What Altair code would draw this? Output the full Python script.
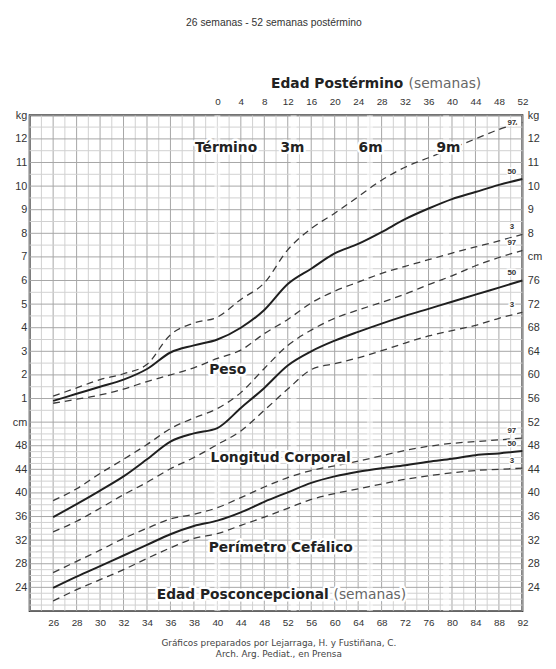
import altair as alt
import pandas as pd

# ---------------- data ----------------
# Postconceptional age (weeks)
SEMANAS = [26, 28, 30, 32, 34, 36, 38, 40, 44, 48, 52, 56, 60, 64, 68, 72, 76, 80, 84, 88, 92]

# Peso (kg)
PESO_P3 = [0.8, 0.97, 1.15, 1.4, 1.72, 2.0, 2.3, 2.7, 3.05, 3.75, 4.35, 5.05, 5.55, 5.93, 6.3, 6.6, 6.88, 7.16, 7.42, 7.68, 7.95]
PESO_P50 = [0.9, 1.2, 1.5, 1.8, 2.25, 2.95, 3.25, 3.5, 4.0, 4.75, 5.85, 6.5, 7.15, 7.55, 8.05, 8.6, 9.05, 9.45, 9.75, 10.05, 10.3]
PESO_P97 = [1.1, 1.45, 1.8, 2.05, 2.45, 3.7, 4.2, 4.45, 5.2, 5.9, 7.3, 8.2, 8.85, 9.55, 10.25, 10.8, 11.2, 11.6, 12.0, 12.4, 12.7]

# Longitud corporal (cm)
LONG_P3 = [33.4, 35.2, 37.4, 39.7, 41.8, 44.1, 46.0, 48.2, 50.5, 54.0, 57.6, 60.9, 61.9, 62.9, 64.1, 65.4, 66.6, 67.5, 68.4, 69.6, 70.6]
LONG_P50 = [35.9, 38.1, 40.4, 42.8, 45.7, 48.7, 50.1, 51.0, 54.4, 57.8, 61.6, 64.0, 65.8, 67.3, 68.7, 70.0, 71.2, 72.4, 73.6, 74.8, 76.0]
LONG_P97 = [38.7, 40.7, 43.3, 45.7, 48.2, 50.9, 52.7, 54.3, 57.0, 61.1, 65.0, 67.6, 69.6, 71.0, 72.3, 73.7, 75.3, 76.8, 78.5, 79.9, 81.1]

# Perimetro cefalico (cm)
PC_P3 = [21.7, 23.6, 25.3, 27.0, 28.9, 30.7, 32.3, 33.1, 34.5, 35.9, 37.4, 38.9, 39.9, 40.7, 41.5, 42.3, 42.9, 43.4, 43.8, 44.0, 44.2]
PC_P50 = [23.9, 25.8, 27.6, 29.4, 31.2, 33.0, 34.4, 35.3, 36.7, 38.5, 40.1, 41.7, 42.8, 43.6, 44.2, 44.7, 45.3, 45.8, 46.4, 46.7, 47.1]
PC_P97 = [26.5, 28.4, 30.3, 32.3, 34.0, 35.6, 36.4, 37.5, 39.2, 41.0, 42.6, 43.8, 44.6, 45.4, 46.3, 47.2, 47.9, 48.4, 48.7, 49.0, 49.3]

# term, 3, 6 and 9 months (postconceptional weeks)
HITOS_SEMANAS = [40, 53, 66, 79]

# tick values
TICKS_PC = SEMANAS
TICKS_POSTERMINO = [0, 4, 8, 12, 16, 20, 24, 28, 32, 36, 40, 44, 48, 52]

# text
TITULO = "26 semanas - 52 semanas postérmino"
PIE_1 = "Gráficos preparados por Lejarraga, H. y Fustiñana, C."
PIE_2 = "Arch. Arg. Pediat., en Prensa"

# --------------- long table ----------------
rows = []
for grupo, unidad, series in [
    ("peso", "kg", [(3, PESO_P3), (50, PESO_P50), (97, PESO_P97)]),
    ("long", "cm", [(3, LONG_P3), (50, LONG_P50), (97, LONG_P97)]),
    ("pc", "cm", [(3, PC_P3), (50, PC_P50), (97, PC_P97)]),
]:
    for pct, vals in series:
        for s, v in zip(SEMANAS, vals):
            rows.append({"grupo": grupo, "unidad": unidad, "pct": pct,
                         "serie": f"{grupo}-{pct}", "semana": s, "valor": v})
df = pd.DataFrame(rows)

IDX = "datum.semana <= 40 ? (datum.semana - 26) / 2 : 7 + (datum.semana - 40) / 4"
YCM = "datum.unidad == 'kg' ? 52 + 4 * datum.valor : datum.valor"

XS = alt.Scale(domain=[-1, 20], nice=False, zero=False)
YS = alt.Scale(domain=[20, 104], nice=False, zero=False)

LABEL_FONT = "Liberation Sans"
BIG_FONT = "DejaVu Sans"

# ---------------- grid ----------------
grid_v = alt.Chart(alt.sequence(-1, 20.01, 0.5, as_="gx")).mark_rule(strokeWidth=1).encode(
    x=alt.X("gx:Q", scale=XS, axis=None),
    color=alt.condition("datum.gx % 1 == 0", alt.value("#a6a6a6"), alt.value("#d0d0d0")),
)
grid_h = alt.Chart(alt.sequence(20, 104.5, 1, as_="gy")).transform_filter(
    "datum.gy < 52 || datum.gy % 2 == 0"
).mark_rule(strokeWidth=1).encode(
    y=alt.Y("gy:Q", scale=YS, axis=None),
    color=alt.condition("datum.gy % 4 == 0", alt.value("#a6a6a6"), alt.value("#d0d0d0")),
)
bandas = alt.Chart(pd.DataFrame({"semana": HITOS_SEMANAS})).transform_calculate(
    idx=IDX
).mark_rule(color="white", strokeWidth=6, opacity=0.55).encode(
    x=alt.X("idx:Q", scale=XS, axis=None)
)

# ---------------- curves ----------------
base = alt.Chart(df).transform_calculate(idx=IDX, ycm=YCM)

dashed = base.transform_filter("datum.pct != 50").mark_line(
    color="#3a3a3a", strokeWidth=1.3, strokeDash=[7, 5], interpolate="monotone"
).encode(
    x=alt.X("idx:Q", scale=XS, axis=None),
    y=alt.Y("ycm:Q", scale=YS, axis=None),
    detail="serie:N",
)
solid = base.transform_filter("datum.pct == 50").mark_line(
    color="#1f1f1f", strokeWidth=2, interpolate="monotone"
).encode(
    x=alt.X("idx:Q", scale=XS, axis=None),
    y=alt.Y("ycm:Q", scale=YS, axis=None),
    detail="serie:N",
)

# percentile labels at the end of each curve
end = base.transform_filter("datum.semana == 92").transform_calculate(
    lx="datum.idx - 0.45",
    ly="min(datum.ycm + 1.25, 102.7)",
    lab="'' + datum.pct",
)
pct_halo = end.mark_text(font=LABEL_FONT, fontSize=8, fontWeight="bold", fill="white",
                         stroke="white", strokeWidth=3).encode(
    x=alt.X("lx:Q", scale=XS, axis=None), y=alt.Y("ly:Q", scale=YS, axis=None), text="lab:N")
pct_txt = end.mark_text(font=LABEL_FONT, fontSize=8, fontWeight="bold", fill="#333").encode(
    x=alt.X("lx:Q", scale=XS, axis=None), y=alt.Y("ly:Q", scale=YS, axis=None), text="lab:N")

# ---------------- annotations (in data coordinates: x = axis index, y = cm) ----------------
anot_bold = pd.DataFrame({
    "t": ["Término", "3m", "6m", "9m", "Peso", "Longitud Corporal", "Perímetro Cefálico"],
    "ax": [7.37, 10.2, 13.53, 16.85, 7.44, 9.7, 9.7],
    "ay": [98.5, 98.5, 98.5, 98.5, 60.9, 45.9, 30.7],
})
ab_halo = alt.Chart(anot_bold).mark_text(font=BIG_FONT, fontSize=14, fontWeight="bold",
                                         fill="white", stroke="white", strokeWidth=5,
                                         strokeJoin="round").encode(
    x=alt.X("ax:Q", scale=XS, axis=None), y=alt.Y("ay:Q", scale=YS, axis=None), text="t:N")
ab_txt = alt.Chart(anot_bold).mark_text(font=BIG_FONT, fontSize=14, fontWeight="bold",
                                        fill="#222").encode(
    x=alt.X("ax:Q", scale=XS, axis=None), y=alt.Y("ay:Q", scale=YS, axis=None), text="t:N")

titles_bold = pd.DataFrame({
    "t": ["Edad Posconcepcional", "Edad Postérmino"],
    "ax": [11.75, 14.92],
    "ay": [22.7, 109.3],
})
titles_norm = pd.DataFrame({
    "t": ["(semanas)", "(semanas)"],
    "ax": [11.95, 15.15],
    "ay": [22.7, 109.3],
})
tb_halo = alt.Chart(titles_bold.iloc[[0]]).mark_text(font=BIG_FONT, fontSize=14, fontWeight="bold",
                                                     align="right", fill="white", stroke="white",
                                                     strokeWidth=5, strokeJoin="round").encode(
    x=alt.X("ax:Q", scale=XS, axis=None), y=alt.Y("ay:Q", scale=YS, axis=None), text="t:N")
tn_halo = alt.Chart(titles_norm.iloc[[0]]).mark_text(font=BIG_FONT, fontSize=14,
                                                     align="left", fill="white", stroke="white",
                                                     strokeWidth=5, strokeJoin="round").encode(
    x=alt.X("ax:Q", scale=XS, axis=None), y=alt.Y("ay:Q", scale=YS, axis=None), text="t:N")
tb_txt = alt.Chart(titles_bold).mark_text(font=BIG_FONT, fontSize=14, fontWeight="bold",
                                          align="right", fill="#222").encode(
    x=alt.X("ax:Q", scale=XS, axis=None), y=alt.Y("ay:Q", scale=YS, axis=None), text="t:N")
tn_txt = alt.Chart(titles_norm).mark_text(font=BIG_FONT, fontSize=14, align="left",
                                          fill="#666").encode(
    x=alt.X("ax:Q", scale=XS, axis=None), y=alt.Y("ay:Q", scale=YS, axis=None), text="t:N")

otros = pd.DataFrame({
    "t": [TITULO, PIE_1, PIE_2],
    "ax": [9.41, 9.62, 9.62],
    "ay": [119.7, 14.5, 12.7],
})
titulo_txt = alt.Chart(otros.iloc[[0]]).mark_text(font=LABEL_FONT, fontSize=10.5, fill="#333").encode(
    x=alt.X("ax:Q", scale=XS, axis=None), y=alt.Y("ay:Q", scale=YS, axis=None), text="t:N")
pie_txt = alt.Chart(otros.iloc[[1, 2]]).mark_text(font=BIG_FONT, fontSize=9, fill="#444").encode(
    x=alt.X("ax:Q", scale=XS, axis=None), y=alt.Y("ay:Q", scale=YS, axis=None), text="t:N")

# ---------------- axes ----------------
idx_bottom = [(s - 26) / 2 if s <= 40 else 7 + (s - 40) / 4 for s in TICKS_PC]
idx_top = [7 + w / 4 for w in TICKS_POSTERMINO]
yvals = list(range(24, 105, 4))

axis_common = dict(domain=False, ticks=False, grid=False, title=None, labelFont=LABEL_FONT,
                   labelColor="#333", labelOverlap=False, labelFlush=False)

axis_df = pd.DataFrame({"x": [0.0], "y": [30.0]})
axes_a = alt.Chart(axis_df).mark_point(opacity=0).encode(
    x=alt.X("x:Q", scale=XS, axis=alt.Axis(
        orient="bottom", values=idx_bottom, labelFontSize=10, labelPadding=7,
        labelExpr="datum.value <= 7 ? '' + (26 + 2 * datum.value) : '' + (40 + 4 * (datum.value - 7))",
        **axis_common)),
    y=alt.Y("y:Q", scale=YS, axis=alt.Axis(
        orient="left", values=yvals, labelFontSize=11, labelPadding=3,
        labelExpr="datum.value == 104 ? 'kg' : datum.value == 52 ? 'cm' : datum.value > 52 ? '' + ((datum.value - 52) / 4) : '' + datum.value",
        **axis_common)),
)
axes_b = alt.Chart(axis_df).mark_point(opacity=0).encode(
    x=alt.X("x:Q", scale=XS, axis=alt.Axis(
        orient="top", values=idx_top, labelFontSize=10, labelPadding=9,
        labelExpr="'' + (4 * (datum.value - 7))",
        **axis_common)),
    y=alt.Y("y:Q", scale=YS, axis=alt.Axis(
        orient="right", values=yvals, labelFontSize=11, labelPadding=5,
        labelExpr="datum.value == 104 ? 'kg' : datum.value == 80 ? 'cm' : datum.value > 80 ? '' + ((datum.value - 52) / 4) : '' + datum.value",
        **axis_common)),
)

chart = alt.layer(
    grid_v, grid_h, bandas, dashed, solid, pct_halo, pct_txt,
    ab_halo, ab_txt, tb_halo, tn_halo, tb_txt, tn_txt, titulo_txt, pie_txt,
    axes_a, axes_b,
).resolve_axis(x="independent", y="independent").properties(
    width=500, height=503,
    padding={"left": 22, "top": 104, "right": 26, "bottom": 52},
    autosize=alt.AutoSizeParams(type="none"),
    background="white",
).configure_view(stroke="#333", strokeWidth=2)

chart.save("out.html", embed_options={"renderer": "svg", "actions": False})
